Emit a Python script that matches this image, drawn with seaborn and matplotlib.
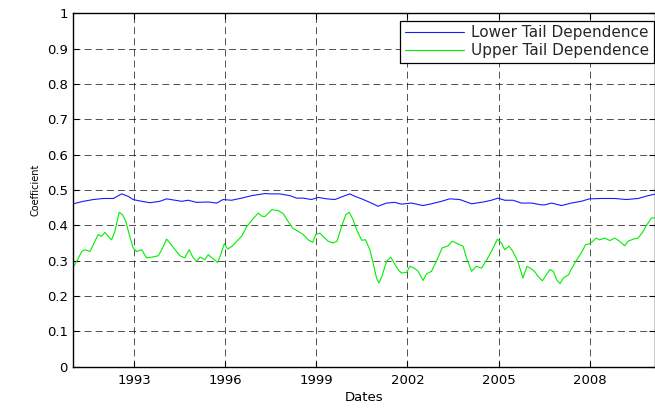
import matplotlib
matplotlib.use("Agg")
import matplotlib.pyplot as plt
import seaborn as sns
import pandas as pd

# Rolling tail-dependence coefficients (decimal years)
lower_dates = [1991.00, 1991.33, 1991.66, 1991.99, 1992.32, 1992.59, 1992.81, 1992.97,
               1993.19, 1993.52, 1993.85, 1994.07, 1994.35, 1994.57, 1994.78, 1995.06,
               1995.44, 1995.72, 1995.93, 1996.21, 1996.54, 1996.87, 1997.31, 1997.47,
               1997.80, 1998.13, 1998.35, 1998.57, 1998.84, 1999.06, 1999.34, 1999.61,
               1999.88, 2000.10, 2000.27, 2000.49, 2000.76, 2001.03, 2001.31, 2001.58,
               2001.80, 2002.13, 2002.51, 2002.79, 2003.12, 2003.39, 2003.72, 2004.11,
               2004.49, 2004.76, 2004.98, 2005.20, 2005.47, 2005.75, 2006.08, 2006.41,
               2006.52, 2006.74, 2007.07, 2007.39, 2007.72, 2007.99, 2008.38, 2008.82,
               2009.20, 2009.59, 2009.92, 2010.13]
lower_tail = [0.461, 0.468, 0.473, 0.476, 0.476, 0.489, 0.482, 0.473,
              0.469, 0.464, 0.468, 0.475, 0.471, 0.468, 0.471, 0.465,
              0.466, 0.463, 0.473, 0.471, 0.477, 0.484, 0.490, 0.489,
              0.489, 0.484, 0.477, 0.477, 0.473, 0.479, 0.475, 0.473,
              0.482, 0.489, 0.482, 0.475, 0.465, 0.454, 0.463, 0.465,
              0.460, 0.463, 0.456, 0.461, 0.468, 0.475, 0.473, 0.461,
              0.466, 0.471, 0.477, 0.471, 0.471, 0.463, 0.463, 0.458,
              0.458, 0.463, 0.456, 0.463, 0.468, 0.475, 0.476, 0.476,
              0.473, 0.476, 0.484, 0.488]

upper_dates = [1991.00, 1991.11, 1991.28, 1991.38, 1991.55, 1991.71, 1991.82, 1991.93,
               1992.04, 1992.15, 1992.26, 1992.37, 1992.51, 1992.62, 1992.73, 1992.84,
               1992.97, 1993.09, 1993.25, 1993.41, 1993.58, 1993.80, 1993.91, 1994.07,
               1994.18, 1994.35, 1994.51, 1994.67, 1994.81, 1994.95, 1995.06, 1995.17,
               1995.33, 1995.44, 1995.61, 1995.75, 1995.83, 1995.97, 1996.08, 1996.21,
               1996.38, 1996.54, 1996.70, 1996.89, 1997.09, 1997.20, 1997.31, 1997.53,
               1997.74, 1997.91, 1998.07, 1998.22, 1998.40, 1998.57, 1998.73, 1998.88,
               1998.98, 1999.12, 1999.22, 1999.39, 1999.55, 1999.68, 1999.83, 1999.97,
               2000.08, 2000.21, 2000.32, 2000.38, 2000.49, 2000.62, 2000.76, 2000.87,
               2000.98, 2001.06, 2001.16, 2001.31, 2001.45, 2001.56, 2001.69, 2001.80,
               2001.97, 2002.08, 2002.22, 2002.35, 2002.51, 2002.63, 2002.79, 2002.95,
               2003.14, 2003.34, 2003.47, 2003.56, 2003.72, 2003.83, 2003.94, 2004.11,
               2004.27, 2004.44, 2004.60, 2004.76, 2004.96, 2005.09, 2005.20, 2005.34,
               2005.47, 2005.63, 2005.80, 2005.93, 2006.04, 2006.18, 2006.29, 2006.44,
               2006.57, 2006.69, 2006.80, 2006.91, 2007.02, 2007.13, 2007.30, 2007.39,
               2007.56, 2007.72, 2007.86, 2007.99, 2008.10, 2008.21, 2008.32, 2008.49,
               2008.66, 2008.82, 2008.98, 2009.15, 2009.26, 2009.43, 2009.59, 2009.72,
               2009.86, 2010.03, 2010.13]
upper_tail = [0.282, 0.298, 0.326, 0.331, 0.326, 0.355, 0.374, 0.369,
              0.380, 0.369, 0.359, 0.383, 0.437, 0.430, 0.411, 0.374,
              0.336, 0.326, 0.331, 0.308, 0.310, 0.314, 0.331, 0.361,
              0.350, 0.331, 0.314, 0.308, 0.331, 0.308, 0.298, 0.310,
              0.303, 0.317, 0.305, 0.295, 0.312, 0.348, 0.333, 0.340,
              0.355, 0.369, 0.395, 0.416, 0.435, 0.426, 0.425, 0.444,
              0.442, 0.433, 0.411, 0.392, 0.383, 0.374, 0.359, 0.352,
              0.374, 0.378, 0.369, 0.355, 0.350, 0.355, 0.397, 0.430,
              0.437, 0.416, 0.388, 0.378, 0.358, 0.359, 0.331, 0.293,
              0.251, 0.237, 0.256, 0.298, 0.310, 0.293, 0.275, 0.265,
              0.267, 0.284, 0.279, 0.270, 0.244, 0.263, 0.270, 0.298,
              0.336, 0.342, 0.355, 0.352, 0.345, 0.341, 0.308, 0.270,
              0.284, 0.279, 0.301, 0.326, 0.361, 0.350, 0.331, 0.341,
              0.326, 0.298, 0.251, 0.284, 0.279, 0.270, 0.256, 0.243,
              0.260, 0.275, 0.270, 0.246, 0.235, 0.251, 0.260, 0.276,
              0.301, 0.322, 0.345, 0.348, 0.355, 0.364, 0.359, 0.364,
              0.357, 0.364, 0.355, 0.342, 0.355, 0.361, 0.364, 0.378,
              0.399, 0.421, 0.421]

series_names = ["Lower Tail Dependence", "Upper Tail Dependence"]
series_colors = ["#1a1aff", "#00ee00"]
x_ticks = [1993, 1996, 1999, 2002, 2005, 2008]
y_ticks = [0, 0.1, 0.2, 0.3, 0.4, 0.5, 0.6, 0.7, 0.8, 0.9, 1]
y_tick_labels = ["0", "0.1", "0.2", "0.3", "0.4", "0.5", "0.6", "0.7", "0.8", "0.9", "1"]

df = pd.concat([
    pd.DataFrame({"Dates": lower_dates, "Coefficient": lower_tail, "series": series_names[0]}),
    pd.DataFrame({"Dates": upper_dates, "Coefficient": upper_tail, "series": series_names[1]}),
], ignore_index=True)

sns.set_theme(style="white")
plt.rcParams["font.family"] = ["DejaVu Sans"]
plt.rcParams["lines.scale_dashes"] = False

fig = plt.figure(figsize=(6.55, 4.08), dpi=100)
ax = fig.add_axes([73.3 / 655, 41.3 / 408, 581.2 / 655, 353.4 / 408])

sns.lineplot(data=df, x="Dates", y="Coefficient", hue="series",
             palette=dict(zip(series_names, series_colors)),
             estimator=None, sort=True, linewidth=0.8, ax=ax, legend=False)

ax.set_xlim(1991.0, 2010.13)
ax.set_ylim(0, 1)
ax.set_xticks(x_ticks)
ax.set_xticklabels([str(t) for t in x_ticks])
ax.set_yticks(y_ticks)
ax.set_yticklabels(y_tick_labels)

ax.grid(True, color="black", linestyle=(0, (5, 3)), linewidth=0.6, alpha=0.8)
ax.set_axisbelow(True)
for s in ax.spines.values():
    s.set_color("black")
    s.set_linewidth(1.0)
    s.set_visible(True)

ax.tick_params(axis="both", direction="in", length=4, width=0.8, color="black",
               labelsize=9.5, labelcolor="black", top=True, right=True,
               bottom=True, left=True)
ax.tick_params(axis="x", pad=5)
ax.tick_params(axis="y", pad=4)

ax.set_xlabel("Dates", fontsize=9.5, color="black")
ax.set_ylabel("Coefficient", fontsize=7, color="black")
ax.xaxis.set_label_coords(0.5, -0.068)
ax.yaxis.set_label_coords(-0.057, 0.5)

handles = [plt.Line2D([], [], color=c, linewidth=0.8) for c in series_colors]
leg = ax.legend(handles, series_names, loc="upper right",
                bbox_to_anchor=(654 / 655, (408 - 20.7) / 408),
                bbox_transform=fig.transFigure, fontsize=11, frameon=True,
                fancybox=False, edgecolor="black", framealpha=1,
                handlelength=3.9, handletextpad=0.45, labelspacing=0.2,
                borderpad=0.3, borderaxespad=0)
leg.get_frame().set_linewidth(0.9)

fig.savefig("out.png", dpi=100)
